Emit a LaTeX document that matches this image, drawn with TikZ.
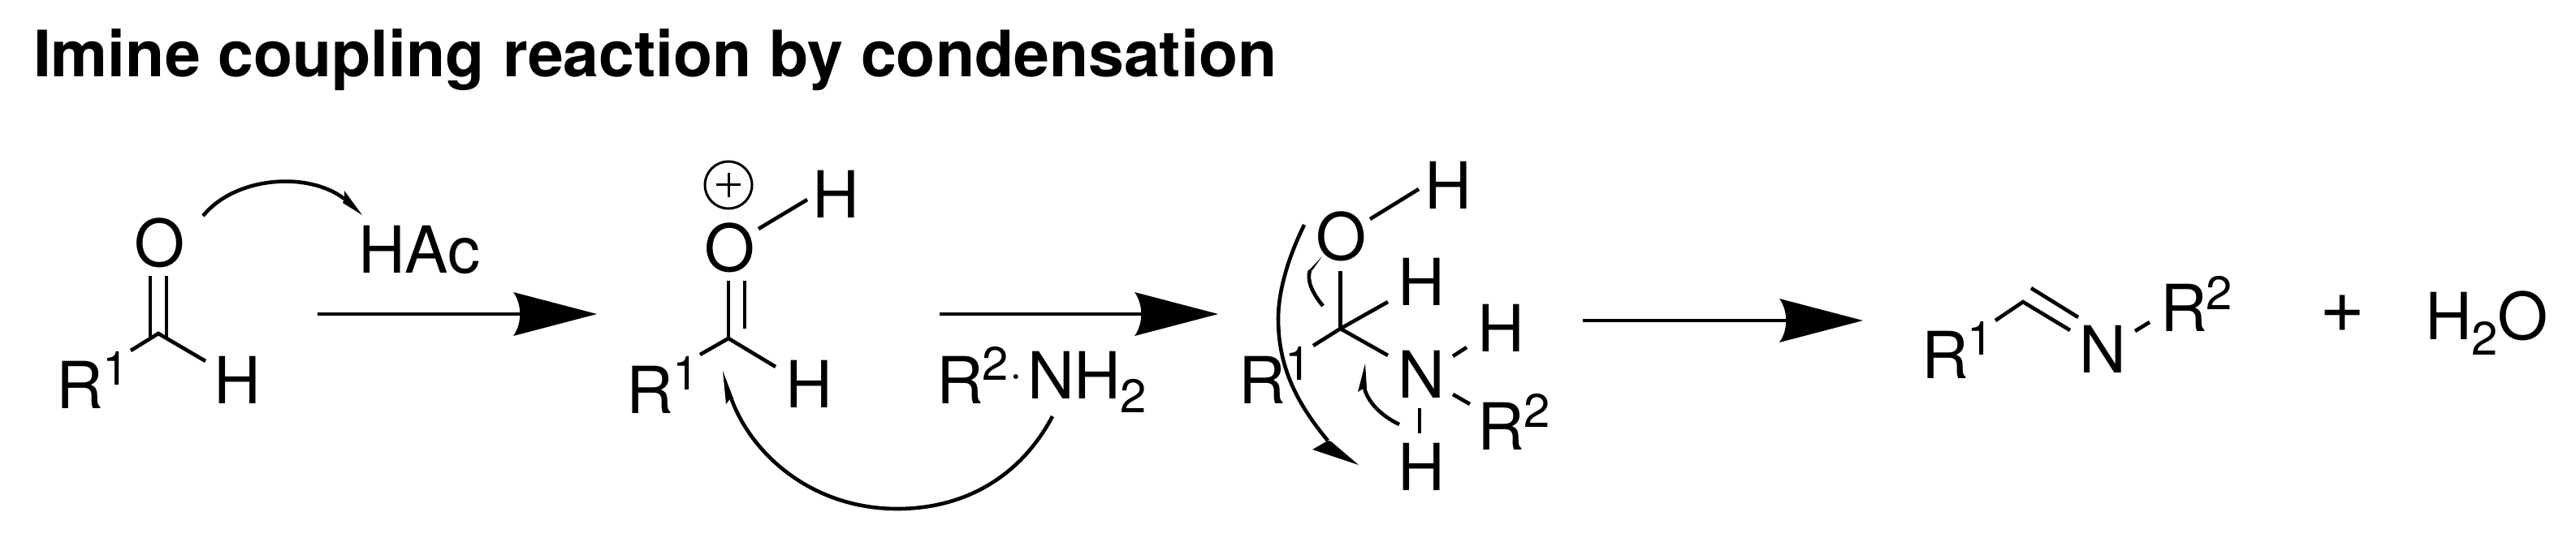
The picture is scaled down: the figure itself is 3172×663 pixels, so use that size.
\documentclass[tikz,border=0pt]{standalone}
\usepackage{fontspec}
\setmainfont{TeX Gyre Heros}
\newcommand{\chemsize}{\fontsize{40}{40}\selectfont}
\newcommand{\supsize}{\fontsize{29}{29}\selectfont}
\tikzset{
  atom/.style={anchor=base west,inner sep=0pt,outer sep=0pt,font=\chemsize},
  idx/.style={anchor=base west,inner sep=0pt,outer sep=0pt,font=\supsize},
  plussign/.style={anchor=center,inner sep=0pt,outer sep=0pt,font=\fontsize{48}{48}\selectfont},
  titletext/.style={anchor=base west,inner sep=0pt,outer sep=0pt,font=\fontsize{39.4}{39.4}\selectfont\bfseries},
  bond/.style={line width=2.3pt},
  rxnline/.style={line width=2.3pt},
  curly/.style={line width=2.3pt},
  headfill/.style={fill=black,draw=none}
}
% arrow: name, x start, x tip, y (head follows the tip)
\newcommand{\rxnarrow}[4]{%
  \coordinate (#1s) at (#2,#4);
  \coordinate (#1t) at (#3,#4);
  \coordinate (#1e) at ($(#1t)+(-90,0)$);
  \coordinate (#1u) at ($(#1t)+(-103,-27)$);
  \coordinate (#1d) at ($(#1t)+(-103,27)$);
  \draw[rxnline] (#1s) -- (#1e);
  \fill (#1t) -- (#1u) .. controls ($(#1e)+(-2,-12)$) and ($(#1e)+(-2,12)$) .. (#1d) -- cycle;
}
\usetikzlibrary{calc}
\begin{document}
\begin{tikzpicture}[x=0.5pt,y=-0.5pt]
\useasboundingbox (0,0) rectangle (3172,663);
\node[titletext] (title) at (41,95) {Imine coupling reaction by condensation};

% aldehyde
\node[atom] (o1) at (165,328) {O};
\node[atom] (r1a) at (69,503) {R};
\node[idx] (r1a1) at (126,474) {1};
\node[atom] (h1) at (263,497) {H};
\node[atom] (hac) at (441,336) {HAc};
\coordinate (c1) at (195,411);
\coordinate (c1r) at (161,432);
\coordinate (c1h) at (253,445);
\coordinate (d1at) at (185,340);
\coordinate (d1ab) at (185,417);
\coordinate (d1bt) at (205,340);
\coordinate (d1bb) at (205,415);
\draw[bond] (d1at) -- (d1ab);
\draw[bond] (d1bt) -- (d1bb);
\draw[bond,line join=miter] (c1r) -- (c1) -- (c1h);

% curved arrow to HAc
\coordinate (ca1) at (250,266);
\coordinate (ca1e) at (424,245);
\coordinate (ca1t) at (446,265);
\coordinate (ca1b) at (424,235);
\draw[curly] (ca1) .. controls (290,217) and (380,211) .. (ca1e);
\fill[headfill] (ca1t) -- (ca1b) -- (ca1e) -- ++(-2,5) -- cycle;

\rxnarrow{a}{391}{735}{387}

% protonated aldehyde
\node[atom] (o2) at (867,334) {O};
\node[atom] (h2a) at (1000,268) {H};
\node[atom] (r2) at (771,509) {R};
\node[idx] (r21) at (828,480) {1};
\node[atom] (h2b) at (967,502) {H};
\node[draw,line width=1.5pt,circle,minimum size=29pt,inner sep=0pt] (plus) at (897,228) {};
\coordinate (pl) at (882,228);
\coordinate (pr) at (912,228);
\coordinate (pt) at (897,213);
\coordinate (pb) at (897,243);
\draw[line width=1.5pt] (pl) -- (pr);
\draw[line width=1.5pt] (pt) -- (pb);
\coordinate (oh2a) at (934,282);
\coordinate (oh2b) at (994,246);
\draw[bond] (oh2a) -- (oh2b);
\coordinate (c2) at (897,417);
\coordinate (d2a) at (897,346);
\coordinate (d2bt) at (917,346);
\coordinate (d2bb) at (917,405);
\coordinate (c2r) at (862,437);
\coordinate (c2h) at (955,452);
\draw[bond] (d2a) -- (c2);
\draw[bond] (d2bt) -- (d2bb);
\draw[bond] (c2r) -- (c2) -- (c2h);

% R2-NH2
\node[atom] (r3) at (1153,497) {R};
\node[idx] (r32) at (1209,468) {2};
\node[atom] (dot) at (1243,478) {\fontsize{28}{28}\selectfont\textperiodcentered};
\node[atom] (n3) at (1265,491) {NH};
\node[idx] (n32) at (1379,508) {2};

% curved arrow amine to carbonyl
\coordinate (ca2) at (1296,513);
\coordinate (ca2m) at (1105,627);
\coordinate (ca2e) at (900,490);
\coordinate (ca2t) at (890,457);
\coordinate (ca2b) at (894,498);
\draw[curly] (ca2) .. controls (1255,590) and (1185,627) .. (ca2m) .. controls (1000,627) and (925,560) .. (ca2e);
\fill[headfill] (ca2t) -- (ca2b) -- (ca2e) -- ++(3,1) -- cycle;

\rxnarrow{b}{1157}{1500}{387}

% tetrahedral intermediate
\node[atom] (o4) at (1620,320) {O};
\node[atom] (h4a) at (1754,257) {H};
\node[atom] (h4b) at (1721,376) {H};
\node[atom] (n4) at (1721,490) {N};
\node[atom] (h4c) at (1819,433) {H};
\node[atom] (r4a) at (1525,497) {R};
\node[idx] (r4a1) at (1582,468) {1};
\node[atom] (r4b) at (1819,554) {R};
\node[idx] (r4b2) at (1876,526) {2};
\node[atom] (h4d) at (1721,604) {H};
\coordinate (oh4a) at (1687,270);
\coordinate (oh4b) at (1747,233);
\coordinate (c4) at (1650.5,405);
\coordinate (c4o) at (1650.5,334);
\coordinate (c4h) at (1709,372);
\coordinate (c4r) at (1617,426);
\coordinate (c4n) at (1709,438);
\coordinate (nha) at (1789,439);
\coordinate (nhb) at (1806,428);
\coordinate (nra) at (1789,486);
\coordinate (nrb) at (1810,498);
\coordinate (ndha) at (1748,503);
\coordinate (ndhb) at (1748,534);
\draw[bond] (oh4a) -- (oh4b);
\draw[bond] (c4o) -- (c4);
\draw[bond] (c4) -- (c4h);
\draw[bond] (c4) -- (c4r);
\draw[bond] (c4) -- (c4n);
\draw[bond] (nha) -- (nhb);
\draw[bond] (nra) -- (nrb);
\draw[bond] (ndha) -- (ndhb);

% big curved arrow
\coordinate (ca3) at (1606,277);
\coordinate (ca3m) at (1574,393);
\coordinate (ca3e) at (1635,543);
\coordinate (ca3t) at (1673,573);
\coordinate (ca3b) at (1616,554);
\draw[curly] (ca3) .. controls (1585,320) and (1574,360) .. (ca3m) .. controls (1574,450) and (1595,495) .. (ca3e);
\fill[headfill] (ca3t) -- (ca3b) -- (ca3e) -- ++(4,1) -- cycle;

% small curved arrows
\coordinate (ca4) at (1629,377);
\coordinate (ca4e) at (1613,333);
\coordinate (ca4t) at (1628,316);
\coordinate (ca4b) at (1611,334);
\draw[curly] (ca4) .. controls (1615,360) and (1609,345) .. (ca4e);
\fill[headfill] (ca4t) -- (ca4b) -- (ca4e) -- ++(3,0) -- cycle;

\coordinate (ca5) at (1723,523);
\coordinate (ca5e) at (1680,478);
\coordinate (ca5t) at (1681,448);
\coordinate (ca5b) at (1672,483);
\draw[curly] (ca5) .. controls (1700,512) and (1684,495) .. (ca5e);
\fill[headfill] (ca5t) -- (ca5b) -- (ca5e) -- ++(3,1) -- cycle;

\rxnarrow{c}{1949}{2294}{395}

% imine
\node[atom] (r5) at (2366,466) {R};
\node[idx] (r51) at (2422,437) {1};
\node[atom] (n5) at (2560,459) {N};
\node[atom] (r5b) at (2660,408) {R};
\node[idx] (r5b2) at (2716,381) {2};
\coordinate (c5r) at (2457,395);
\coordinate (c5) at (2491,372);
\coordinate (c5n) at (2549,407);
\coordinate (d5a) at (2501,355);
\coordinate (d5b) at (2559,391);
\coordinate (n5a) at (2629,408);
\coordinate (n5b) at (2647,397);
\draw[bond] (c5r) -- (c5) -- (c5n);
\draw[bond] (d5a) -- (d5b);
\draw[bond] (n5a) -- (n5b);

% plus water
\node[plussign] (pw) at (2884,387) {+};
\node[atom] (h6) at (2986,418) {H};
\node[idx] (h62) at (3043,437) {2};
\node[atom] (o6) at (3075,418) {O};
\end{tikzpicture}
\end{document}
